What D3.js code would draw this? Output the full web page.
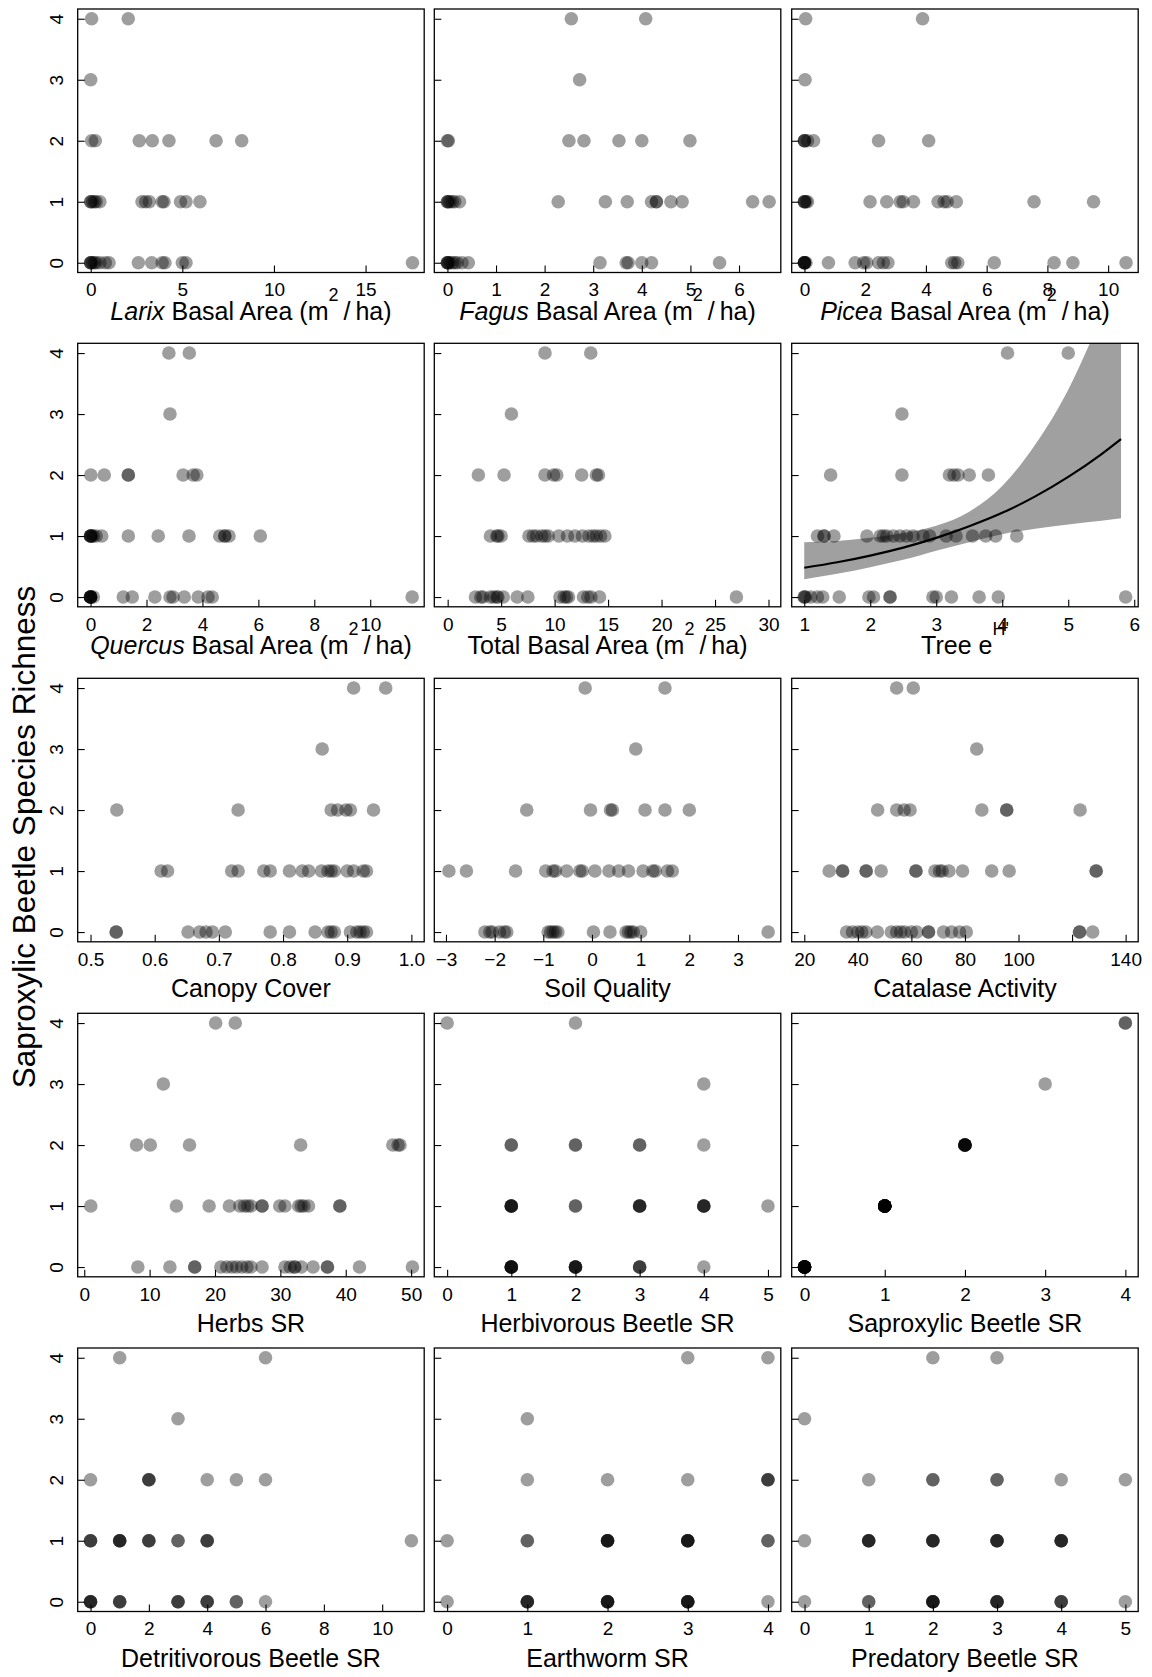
<!DOCTYPE html>
<html>
<head>
<meta charset="utf-8">
<script src="https://cdn.jsdelivr.net/npm/d3@7"></script>
<style>
  body { margin: 0; background: #fff; }
  text { font-family: "Liberation Sans", Arial, sans-serif; fill: #000; }
</style>
</head>
<body>
<div id="chart"></div>
<script>
// richness levels 0..4, each list holds the x values of the sites at that level
var larix = [
  [0,0,0,0.1,0.2,0.3,0.5,0.8,1.0,2.6,3.33,3.9,4.05,5.0,5.2,17.56],
  [0,0,0.1,0.2,0.3,0.5,2.8,3.0,3.2,3.9,4.0,4.9,5.2,5.96],
  [0.05,0.25,2.65,3.36,4.27,6.84,8.24],
  [0.0],
  [0.05,2.05]
];
var fagus = [
  [0,0,0,0.02,0.05,0.1,0.15,0.2,0.3,0.43,3.14,3.68,3.72,4.0,4.2,5.6],
  [0,0,0.02,0.05,0.1,0.15,0.25,2.28,3.25,3.7,4.2,4.3,4.3,4.6,4.83,6.28,6.62],
  [0,0.02,2.5,2.81,3.53,4.0,4.99],
  [2.72],
  [2.55,4.08]
];
var picea = [
  [0,0,0,0,0,0.05,0.79,1.67,1.95,2.05,2.44,2.6,2.75,4.85,4.95,5.05,6.25,8.22,8.84,10.59],
  [0,0,0,0.05,0.1,2.16,2.71,3.15,3.25,3.59,4.4,4.6,4.7,5.0,7.56,9.52],
  [0,0,0,0.1,0.3,2.44,4.09],
  [0.02],
  [0.04,3.89]
];
var quercus = [
  [0,0,0,0,0,0,0.1,1.17,1.49,2.3,2.84,2.95,3.35,3.85,4.2,4.35,11.5],
  [0,0,0,0,0.05,0.1,0.2,0.4,1.35,2.42,3.52,4.62,4.8,4.8,4.95,6.07],
  [0.01,0.49,1.35,1.35,3.31,3.67,3.8],
  [2.84],
  [2.8,3.53]
];
var totalBA = [
  [2.6,3.1,3.3,4.0,4.3,4.6,4.7,5.2,6.5,7.5,10.5,10.9,11.1,11.3,12.7,13.1,13.4,14.2,27.0],
  [4.0,4.6,4.7,5.0,7.6,8.0,8.3,8.8,9.1,9.4,10.4,11.2,11.9,12.6,13.2,13.6,13.9,14.3,14.7],
  [2.87,5.27,9.1,9.9,10.2,12.53,13.9,14.1],
  [5.96],
  [9.1,13.38]
];
var treeEH = [
  [1.0,1.0,1.02,1.1,1.2,1.28,1.53,1.98,2.05,2.3,2.3,2.95,3.0,3.23,3.65,3.94,5.87],
  [1.2,1.3,1.3,1.45,1.95,2.15,2.2,2.25,2.35,2.45,2.55,2.65,2.8,2.9,3.15,3.3,3.55,3.75,3.9,4.22],
  [1.4,2.48,3.2,3.27,3.33,3.5,3.79],
  [2.48],
  [4.08,5.0]
];
var canopy = [
  [0.54,0.54,0.652,0.67,0.68,0.69,0.71,0.78,0.81,0.85,0.87,0.875,0.88,0.905,0.915,0.92,0.925,0.93],
  [0.61,0.62,0.72,0.73,0.77,0.78,0.81,0.83,0.84,0.86,0.87,0.875,0.88,0.90,0.91,0.925,0.93],
  [0.541,0.73,0.875,0.885,0.898,0.905,0.941],
  [0.861],
  [0.91,0.96]
];
var soil = [
  [-2.2,-2.1,-2.05,-1.9,-1.8,-1.75,-0.9,-0.85,-0.8,-0.75,-0.7,0.03,0.37,0.7,0.75,0.8,0.85,1.0,3.62],
  [-2.94,-2.58,-1.57,-0.95,-0.8,-0.75,-0.52,-0.25,-0.2,0.06,0.35,0.55,0.75,1.05,1.25,1.3,1.55,1.65],
  [-1.34,-0.03,0.38,0.42,1.09,1.5,2.0],
  [0.9],
  [-0.14,1.5]
];
var catalase = [
  [35.8,38,40,41.5,43,47.3,52.5,54.5,56,57.5,60,62,66.4,66.4,72,75,78,80.5,122.8,122.8,127.7],
  [29.3,34.3,34.3,43.1,43.1,48.7,61.7,61.7,68.8,70.5,71.5,74,79.1,90,96.5,129,129],
  [47.4,54.5,57.3,59.5,86.3,95.6,95.6,123],
  [84.4],
  [54.5,60.7]
];
var herbs = [
  [8.2,13.1,16.9,16.9,20.9,21.8,22.6,23.3,24.1,24.9,25.5,27.2,30.7,31.5,32.2,32.2,33.2,35.0,37.2,37.2,42.1,50.2],
  [1.0,14.1,19.1,22.2,23.8,24.5,25,25.5,27.2,27.2,29.9,30.7,32.8,33.2,33.6,34.3,39.1,39.1],
  [8.0,10.1,16.1,33.1,47.2,48.0,48.3],
  [12.1],
  [20.1,23.1]
];
var herbivorous = [
  [1,1,1,1,1,1,2,2,2,2,2,3,3,3,4],
  [1,1,1,1,1,2,2,3,3,3,3,4,4,4,4,5],
  [1,1,2,2,3,3,4],
  [4],
  [0,2]
];
var saproxylic = [
  [0,0,0,0,0,0,0,0,0,0,0,0,0,0,0],
  [1,1,1,1,1,1,1,1,1,1,1,1,1,1,1,1],
  [2,2,2,2,2,2,2],
  [3],
  [4,4]
];
var detritivorous = [
  [0,0,0,0,1,1,1,3,3,3,4,4,4,5,5,6],
  [0,0,0,1,1,1,1,2,2,2,3,3,4,4,4,11],
  [0,2,2,2,4,5,6],
  [3],
  [1,6]
];
var earthworm = [
  [0,1,1,1,1,2,2,2,2,2,3,3,3,3,3,4],
  [0,1,1,2,2,2,2,2,3,3,3,3,3,4,4],
  [1,2,3,4,4,4],
  [1],
  [3,4]
];
var predatory = [
  [0,1,1,2,2,2,2,2,3,3,3,3,4,4,4,5],
  [0,1,1,1,1,2,2,2,2,3,3,3,3,4,4,4,4],
  [1,2,2,3,3,4,5],
  [0],
  [2,3]
];

// fitted curve for Tree e^H'
var fitX  = [1, 1.5, 2, 2.5, 3, 3.5, 4, 4.5, 5, 5.5, 5.8];
var fitY  = [0.48, 0.57, 0.68, 0.81, 0.97, 1.16, 1.38, 1.65, 1.97, 2.34, 2.59];
var fitLo = [0.29, 0.38, 0.49, 0.61, 0.76, 0.90, 1.03, 1.12, 1.19, 1.25, 1.29];
var fitHi = [0.90, 0.92, 0.97, 1.05, 1.17, 1.40, 1.82, 2.50, 3.40, 4.60, 5.40];

var yTicks = [0, 1, 2, 3, 4];
var yTitle = "Saproxylic Beetle Species Richness";

var panels = [
  {data: larix, dom: [-0.71, 18.2], ticks: [0,5,10,15], title: [["Larix","i"],[" Basal Area (m"],["2","sup"],["\u2009/\u2009ha)"]]},
  {data: fagus, dom: [-0.27, 6.86], ticks: [0,1,2,3,4,5,6], title: [["Fagus","i"],[" Basal Area (m"],["2","sup"],["\u2009/\u2009ha)"]]},
  {data: picea, dom: [-0.42, 10.99], ticks: [0,2,4,6,8,10], title: [["Picea","i"],[" Basal Area (m"],["2","sup"],["\u2009/\u2009ha)"]]},
  {data: quercus, dom: [-0.46, 11.93], ticks: [0,2,4,6,8,10], title: [["Quercus","i"],[" Basal Area (m"],["2","sup"],["\u2009/\u2009ha)"]]},
  {data: totalBA, dom: [-1.25, 31.15], ticks: [0,5,10,15,20,25,30], title: [["Total Basal Area (m"],["2","sup"],["\u2009/\u2009ha)"]]},
  {data: treeEH, dom: [0.81, 6.06], ticks: [1,2,3,4,5,6], title: [["Tree e"],["H'","sup"]], fit: true},
  {data: canopy, dom: [0.48, 1.02], ticks: [0.5,0.6,0.7,0.8,0.9,1.0], fmt: ".1f", title: [["Canopy Cover"]]},
  {data: soil, dom: [-3.24, 3.88], ticks: [-3,-2,-1,0,1,2,3], title: [["Soil Quality"]]},
  {data: catalase, dom: [15.3, 144.7], ticks: [20,40,60,80,100,120,140], hide: [120], title: [["Catalase Activity"]]},
  {data: herbs, dom: [-1.0, 52.0], ticks: [0,10,20,30,40,50], title: [["Herbs SR"]]},
  {data: herbivorous, dom: [-0.2, 5.2], ticks: [0,1,2,3,4,5], title: [["Herbivorous Beetle SR"]]},
  {data: saproxylic, dom: [-0.16, 4.16], ticks: [0,1,2,3,4], title: [["Saproxylic Beetle SR"]]},
  {data: detritivorous, dom: [-0.44, 11.44], ticks: [0,2,4,6,8,10], title: [["Detritivorous Beetle SR"]]},
  {data: earthworm, dom: [-0.16, 4.16], ticks: [0,1,2,3,4], title: [["Earthworm SR"]]},
  {data: predatory, dom: [-0.2, 5.2], ticks: [0,1,2,3,4,5], title: [["Predatory Beetle SR"]]}
];

var W = 1152, H = 1677;
var colX = [77.7, 434.3, 791.7], boxW = 346.5;
var rowY = [9, 343.3, 678.3, 1013.3, 1348], boxH = 263.5;
var supRise = 19;

var svg = d3.select("#chart").append("svg").attr("width", W).attr("height", H);
var defs = svg.append("defs");
defs.append("clipPath").attr("id", "clip")
  .append("rect").attr("width", boxW).attr("height", boxH);
defs.append("filter").attr("id", "soft").attr("x", "-5%").attr("y", "-5%").attr("width", "110%").attr("height", "110%")
  .append("feGaussianBlur").attr("stdDeviation", 0.6);

var y = d3.scaleLinear().domain([-0.16, 4.16]).range([boxH, 0]);

panels.forEach(function(p, i) {
  var col = i % 3, row = Math.floor(i / 3);
  var g = svg.append("g").attr("transform", "translate(" + colX[col] + "," + rowY[row] + ")");
  var x = d3.scaleLinear().domain(p.dom).range([0, boxW]);

  if (p.fit) {
    var band = fitX.map(function(d, k) { return {x: d, y: fitY[k], lo: fitLo[k], hi: fitHi[k]}; });
    var area = d3.area().x(function(d){ return x(d.x); })
      .y0(function(d){ return y(d.lo); }).y1(function(d){ return y(d.hi); })
      .curve(d3.curveMonotoneX);
    g.append("path").attr("d", area(band)).attr("fill", "#a0a0a0")
      .attr("clip-path", "url(#clip)");
  }

  var pts = [];
  p.data.forEach(function(xs, lvl) { xs.forEach(function(v) { pts.push([v, lvl]); }); });
  g.append("g").attr("filter", "url(#soft)")
    .selectAll("circle").data(pts).enter().append("circle")
    .attr("cx", function(d){ return x(d[0]); })
    .attr("cy", function(d){ return y(d[1]); })
    .attr("r", 6.8)
    .attr("fill", "#000").attr("fill-opacity", 0.38);

  if (p.fit) {
    var line = d3.line().x(function(d, k){ return x(fitX[k]); }).y(function(d){ return y(d); })
      .curve(d3.curveMonotoneX);
    g.append("path").attr("d", line(fitY)).attr("fill", "none")
      .attr("stroke", "#000").attr("stroke-width", 2.2).attr("clip-path", "url(#clip)");
  }

  // x axis, ticks pointing inwards
  var f = d3.format(p.fmt || "d");
  var hide = p.hide || [];
  var xAxis = d3.axisBottom(x).tickValues(p.ticks).tickSize(-7).tickSizeOuter(0).tickPadding(10.5)
    .tickFormat(function(v){ return hide.indexOf(v) >= 0 ? "" : f(v); });
  var xg = g.append("g").attr("transform", "translate(0," + boxH + ")").call(xAxis);
  xg.select(".domain").remove();
  xg.attr("font-size", 19).attr("font-family", null);
  xg.selectAll("line").attr("stroke-width", 1.1);

  // y axis, labels only on the first column
  var yAxis = d3.axisLeft(y).tickValues(yTicks).tickSize(-7).tickSizeOuter(0)
    .tickFormat(col > 0 ? "" : d3.format("d"));
  var yg = g.append("g").call(yAxis);
  yg.select(".domain").remove();
  yg.attr("font-size", 19).attr("font-family", null);
  yg.selectAll("line").attr("stroke-width", 1.1);
  yg.selectAll("text").attr("transform", "rotate(-90)")
    .attr("x", 0).attr("y", -15).attr("dy", null).attr("text-anchor", "middle");

  g.append("rect").attr("width", boxW).attr("height", boxH)
    .attr("fill", "none").attr("stroke", "#000").attr("stroke-width", 1.3);

  var t = g.append("text").attr("x", boxW / 2)
    .attr("y", boxH + (row < 2 ? 47.5 : 55))
    .attr("text-anchor", "middle").attr("font-size", 25);
  var shift = 0;
  p.title.forEach(function(part) {
    var s = t.append("tspan").text(part[0]);
    if (part[1] === "i") s.attr("font-style", "italic");
    if (part[1] === "sup") {
      s.attr("font-size", 18).attr("dy", -supRise);
      shift = supRise;
    } else if (shift) {
      s.attr("dy", shift);
      shift = 0;
    }
  });
});

svg.append("text")
  .attr("transform", "translate(35,837) rotate(-90)")
  .attr("text-anchor", "middle").attr("font-size", 31.5)
  .text(yTitle);
</script>
</body>
</html>
